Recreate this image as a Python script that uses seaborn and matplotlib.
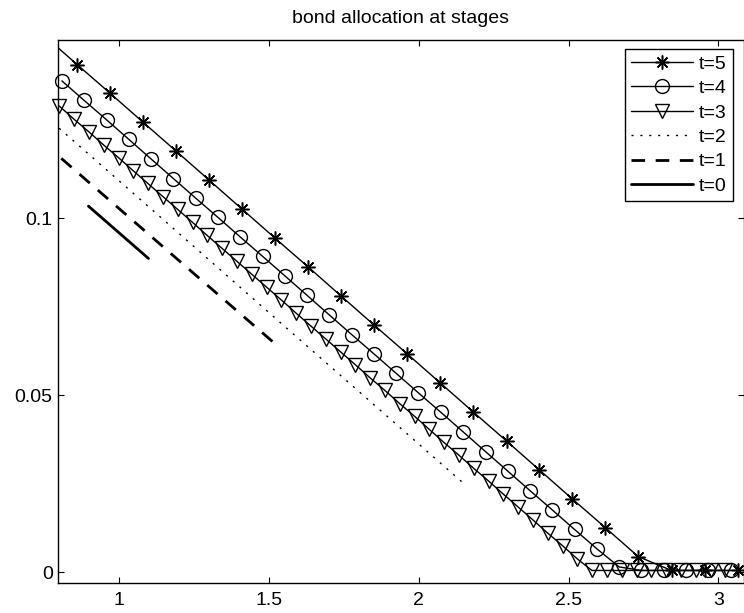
import matplotlib
matplotlib.use("Agg")
import matplotlib.pyplot as plt
import seaborn as sns

# ---- data ----
t5_x = [0.750, 0.860, 0.970, 1.080, 1.191, 1.301, 1.411, 1.521, 1.631, 1.742, 1.852,
        1.962, 2.072, 2.182, 2.293, 2.403, 2.513, 2.623, 2.733, 2.844, 2.954, 3.064]
t5_y = [0.1517, 0.1435, 0.1354, 0.1272, 0.1190, 0.1108, 0.1026, 0.0944, 0.0863, 0.0780, 0.0698,
        0.0617, 0.0535, 0.0453, 0.0371, 0.0289, 0.0207, 0.0126, 0.0044, 0.0005, 0.0005, 0.0005]

t4_x = [0.809, 0.883, 0.958, 1.032, 1.107, 1.181, 1.255, 1.330, 1.404, 1.479, 1.553,
        1.627, 1.702, 1.776, 1.851, 1.925, 1.999, 2.074, 2.148, 2.223, 2.297, 2.371,
        2.446, 2.520, 2.595, 2.669, 2.743, 2.818, 2.892, 2.967, 3.041]
t4_y = [0.1389, 0.1334, 0.1279, 0.1224, 0.1168, 0.1113, 0.1058, 0.1003, 0.0948, 0.0893, 0.0838,
        0.0783, 0.0727, 0.0672, 0.0617, 0.0562, 0.0507, 0.0452, 0.0397, 0.0341, 0.0286, 0.0231,
        0.0176, 0.0121, 0.0066, 0.0015, 0.0005, 0.0005, 0.0005, 0.0005, 0.0005]

t3_x = [0.800, 0.849, 0.899, 0.948, 0.998, 1.047, 1.096, 1.146, 1.195, 1.245, 1.294,
        1.343, 1.393, 1.442, 1.492, 1.541, 1.590, 1.640, 1.689, 1.739, 1.788, 1.837,
        1.887, 1.936, 1.986, 2.035, 2.084, 2.134, 2.183, 2.233, 2.282, 2.331, 2.381,
        2.430, 2.480, 2.529, 2.578, 2.628, 2.677, 2.727, 2.776, 2.825, 2.875, 2.924,
        2.974, 3.023]
t3_y = [0.1318, 0.1281, 0.1245, 0.1208, 0.1172, 0.1135, 0.1099, 0.1062, 0.1026, 0.0989, 0.0952,
        0.0916, 0.0879, 0.0843, 0.0806, 0.0770, 0.0733, 0.0696, 0.0660, 0.0623, 0.0587, 0.0550,
        0.0514, 0.0477, 0.0441, 0.0404, 0.0367, 0.0331, 0.0294, 0.0258, 0.0221, 0.0185, 0.0148,
        0.0111, 0.0075, 0.0038, 0.0005, 0.0005, 0.0005, 0.0005, 0.0005, 0.0005, 0.0005, 0.0005,
        0.0005, 0.0005]

t2_x = [0.800, 1.150, 1.500, 1.850, 2.150]
t2_y = [0.1255, 0.0995, 0.0734, 0.0474, 0.0251]

t1_x = [0.807, 1.000, 1.250, 1.534]
t1_y = [0.1170, 0.1028, 0.0844, 0.0636]

t0_x = [0.8975, 1.098]
t0_y = [0.1035, 0.0887]

x_ticks = [1, 1.5, 2, 2.5, 3]
x_tick_labels = ["1", "1.5", "2", "2.5", "3"]
y_ticks = [0, 0.05, 0.1]
y_tick_labels = ["0", "0.05", "0.1"]
title = "bond allocation at stages"

# ---- style ----
sns.set_style("ticks")
plt.rcParams["font.family"] = ["Liberation Sans", "DejaVu Sans"]
plt.rcParams.update({
    "axes.edgecolor": "black",
    "text.color": "black",
    "xtick.color": "black",
    "ytick.color": "black",
    "axes.labelcolor": "black",
    "xtick.direction": "in",
    "ytick.direction": "in",
})

fig = plt.figure(figsize=(7.44, 6.13), dpi=100)
ax = fig.add_axes([58.3 / 744, 1 - 582.5 / 613, (743.5 - 58.3) / 744, (582.5 - 39.5) / 613])

common = dict(ax=ax, color="black", estimator=None, sort=False)

sns.lineplot(x=t5_x, y=t5_y, label="t=5", linewidth=1.0, marker=(8, 2, 0), markersize=10,
             markeredgecolor="black", markeredgewidth=1.1, **common)
sns.lineplot(x=t4_x, y=t4_y, label="t=4", linewidth=1.0, marker="o", markersize=10,
             markerfacecolor="none", markeredgecolor="black", markeredgewidth=1.0,
             clip_on=False, **common)
sns.lineplot(x=t3_x, y=t3_y, label="t=3", linewidth=1.0, marker="v", markersize=10,
             markerfacecolor="none", markeredgecolor="black", markeredgewidth=1.0,
             clip_on=False, **common)
sns.lineplot(x=t2_x, y=t2_y, label="t=2", linewidth=1.0, linestyle=(0, (1.5, 4.9)), **common)
sns.lineplot(x=t1_x, y=t1_y, label="t=1", linewidth=2.0, linestyle=(0, (4.9, 3.8)), **common)
sns.lineplot(x=t0_x, y=t0_y, label="t=0", linewidth=2.0, linestyle="-", **common)

ax.set_xlim(0.797, 3.084)
ax.set_ylim(-0.0029, 0.1506)
ax.set_xticks(x_ticks)
ax.set_xticklabels(x_tick_labels)
ax.set_yticks(y_ticks)
ax.set_yticklabels(y_tick_labels)
ax.tick_params(axis="both", which="major", direction="in", length=4.5, width=0.8,
               labelsize=14, top=True, right=True)
ax.tick_params(axis="x", pad=6.5)
ax.tick_params(axis="y", pad=4)
for s in ax.spines.values():
    s.set_visible(True)
    s.set_linewidth(1.0)
    s.set_color("black")
ax.set_xlabel("")
ax.set_ylabel("")
ax.set_title(title, fontsize=14, pad=12)

leg = ax.legend(loc="upper right", bbox_to_anchor=(0.9842, 0.982), borderaxespad=0,
                frameon=True, fancybox=False, edgecolor="black", framealpha=1,
                handlelength=3.2, handletextpad=0.3, labelspacing=0.35, borderpad=0.3,
                fontsize=14)
leg.get_frame().set_linewidth(1.0)

fig.savefig("out.png", dpi=100)
